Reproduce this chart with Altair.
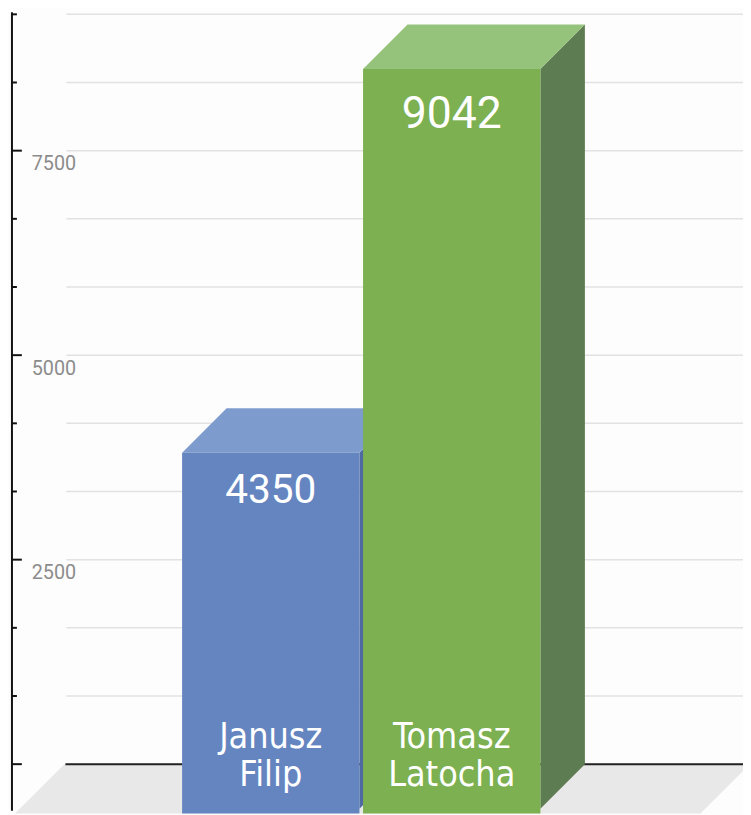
import altair as alt
import pandas as pd

# ---- data ----
names = ["Janusz\nFilip", "Tomasz\nLatocha"]
values = [4350, 9042]
grid_values = [i * 2500 / 3 for i in range(12)]
axis_labels = [2500, 5000, 7500]

# ---- styles ----
front_colors = ["#6585c1", "#7cb050"]
top_colors = ["#7e9bce", "#95c37c"]
side_colors = ["#4f6aa2", "#5d7c51"]
value_sizes = [41, 45]
value_dy = [51, 60]

W, H = 743, 807
Y_MAX = 9166.67
xs = alt.Scale(domain=[0, 1], range=[176, 358])
ys = alt.Scale(domain=[0, Y_MAX], range=[760, 2])
PX_X = 182.0
PX_Y = 758.0 / Y_MAX
DX = 45 / PX_X
DY = 45 / PX_Y

def X(f, **k):
    return alt.X(f, type="quantitative", scale=xs, axis=None, **k)

def Y(f, **k):
    return alt.Y(f, type="quantitative", scale=ys, axis=None, **k)

layers = []

# gridlines
grid_df = pd.DataFrame({"v": grid_values})
layers.append(
    alt.Chart(grid_df).mark_rule(color="#e2e2e2", strokeWidth=1.5).encode(
        y=Y("v"), x=alt.value(59), x2=alt.value(W)
    )
)

# floor
fx0 = (65 - 184) / PX_X
fx1 = (758 - 184) / PX_X
FDY = 50 / PX_Y
FDX = 50 / PX_X
floor_df = pd.DataFrame({"y": [0, -FDY], "x": [fx0, fx0 - FDX], "x2": [fx1, fx1 - FDX]})
layers.append(
    alt.Chart(floor_df).mark_area(orient="horizontal", color="#e8e8e8").encode(
        y=Y("y"), x=X("x"), x2="x2"
    )
)

# baseline
layers.append(
    alt.Chart(pd.DataFrame({"v": [0]})).mark_rule(color="#222222", strokeWidth=2).encode(
        y=Y("v"), x=alt.value(58), x2=alt.value(W)
    )
)

# bars
for i, (name, v) in enumerate(zip(names, values)):
    u0 = i * 1.005
    u1 = u0 + 0.985
    side_df = pd.DataFrame({"x": [u1, u1 + DX], "y": [-DY - 2, 0], "y2": [v - DY, v]})
    layers.append(
        alt.Chart(side_df).mark_area(orient="vertical", color=side_colors[i]).encode(
            x=X("x"), y=Y("y"), y2="y2"
        )
    )
    top_df = pd.DataFrame({"y": [v - DY, v], "x": [u0, u0 + DX], "x2": [u1, u1 + DX]})
    layers.append(
        alt.Chart(top_df).mark_area(orient="horizontal", color=top_colors[i]).encode(
            y=Y("y"), x=X("x"), x2="x2"
        )
    )
    front_df = pd.DataFrame({"x": [u0], "x2": [u1], "y": [-DY - 60], "y2": [v - DY]})
    layers.append(
        alt.Chart(front_df).mark_rect(color=front_colors[i]).encode(
            x=X("x"), x2="x2", y=Y("y"), y2="y2"
        )
    )
    txt_df = pd.DataFrame({"x": [(u0 + u1) / 2], "y": [v - DY], "t": [str(v)], "n": [name]})
    layers.append(
        alt.Chart(txt_df).mark_text(
            color="white", font="Roboto", fontSize=value_sizes[i],
            align="center", baseline="alphabetic", dy=value_dy[i]
        ).encode(x=X("x"), y=Y("y"), text="t:N")
    )
    layers.append(
        alt.Chart(txt_df).mark_text(
            color="white", font="DejaVu Sans Condensed, DejaVu Sans", fontSize=36,
            align="center", baseline="alphabetic", lineBreak="\n", lineHeight=38, dy=-16
        ).encode(x=X("x"), y=alt.Y(datum=0, type="quantitative", scale=ys, axis=None), text="n:N")
    )

# left axis line
layers.append(
    alt.Chart(pd.DataFrame({"a": [0]})).mark_rule(color="#111111", strokeWidth=2).encode(
        x=alt.value(4), y=alt.value(0), y2=alt.value(H)
    )
)
# ticks
tick_df = pd.DataFrame({"v": grid_values})
tick_df["major"] = [abs((g / 2500) - round(g / 2500)) < 1e-6 for g in grid_values]
layers.append(
    alt.Chart(tick_df).transform_filter("datum.major").mark_rule(color="#111111", strokeWidth=2).encode(
        y=Y("v"), x=alt.value(4), x2=alt.value(14)
    )
)
layers.append(
    alt.Chart(tick_df).transform_filter("!datum.major").mark_rule(color="#111111", strokeWidth=2).encode(
        y=Y("v"), x=alt.value(4), x2=alt.value(9)
    )
)
# axis labels
lab_df = pd.DataFrame({"v": axis_labels, "t": [str(a) for a in axis_labels]})
layers.append(
    alt.Chart(lab_df).mark_text(
        color="#8c8c8c", font="Roboto", fontSize=20, align="left", baseline="alphabetic", dy=20
    ).encode(y=Y("v"), x=alt.value(24), text="t:N")
)

chart = alt.layer(*layers).properties(
    width=W, height=H, autosize=alt.AutoSizeParams(type="none"), padding=0,
    background="#fdfdfd"
).configure_view(strokeWidth=0)

chart.save("out.html", embed_options={"renderer": "svg", "actions": False})
